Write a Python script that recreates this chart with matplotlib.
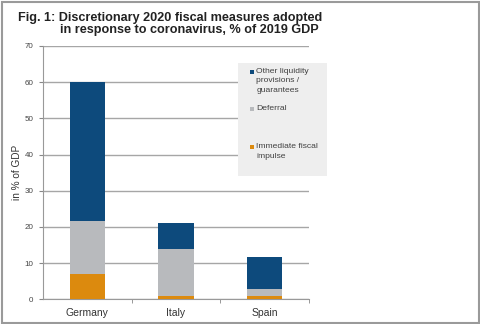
import matplotlib.pyplot as plt
from matplotlib.patches import Rectangle
import numpy as np

countries = ['Germany', 'Italy', 'Spain']
immediate = [6.9, 0.9, 0.8]
deferral = [14.7, 12.9, 2.0]
other = [38.4, 7.4, 9.0]

series_labels = ['Other liquidity\nprovisions /\nguarantees', 'Deferral', 'Immediate fiscal\nimpulse']
colors = ['#0d4a7c', '#b8babd', '#dc8a0e']

plt.rcParams['font.family'] = ['Liberation Sans', 'DejaVu Sans']

W, H = 480, 324
fig = plt.figure(figsize=(4.8, 3.24), dpi=100)
ax = fig.add_axes([43 / W, 1 - 299.3 / H, (309 - 43) / W, (299.3 - 46) / H])

x = np.arange(len(countries))
imm = np.array(immediate)
dfr = np.array(deferral)
oth = np.array(other)
ax.bar(x, imm, width=0.4, color=colors[2], zorder=3)
ax.bar(x, dfr, width=0.4, bottom=imm, color=colors[1], zorder=3)
ax.bar(x, oth, width=0.4, bottom=imm + dfr, color=colors[0], zorder=3)

ax.set_xlim(-0.5, 2.5)
ax.set_ylim(0, 70)
ax.set_yticks(range(0, 71, 10))
ax.yaxis.grid(True, color='#a6a6a6', linewidth=1, zorder=0)
ax.set_xticks(x)
ax.set_xticklabels(countries, fontsize=7.5, color='#333333')
ax.set_xticks([0.5, 1.5, 2.5], minor=True)
ax.tick_params(axis='x', which='major', length=0, pad=6)
ax.tick_params(axis='x', which='minor', length=3, color='#888888')
ax.tick_params(axis='y', length=3, color='#888888', labelsize=5.8, labelcolor='#444444', pad=4)
for s in ['top', 'right']:
    ax.spines[s].set_visible(False)
for s in ['left', 'bottom']:
    ax.spines[s].set_color('#999999')
ax.set_ylabel('in % of GDP', fontsize=7.2, color='#333333', labelpad=2)

# title
fig.text(18 / W, 1 - 20.7 / H, 'Fig. 1: Discretionary 2020 fiscal measures adopted',
         fontsize=9.1, fontweight='bold', color='#222222', va='baseline')
fig.text(60 / W, 1 - 33.3 / H, 'in response to coronavirus, % of 2019 GDP',
         fontsize=9.1, fontweight='bold', color='#222222', va='baseline')

# legend box
fig.patches.append(Rectangle((238 / W, 1 - 176 / H), (327 - 238) / W, (176 - 63) / H,
                             transform=fig.transFigure, facecolor='#eeeeee',
                             edgecolor='none', zorder=5))
entry_y = [71.7, 109, 147]
for lab, col, yy in zip(series_labels, colors, entry_y):
    fig.patches.append(Rectangle((250 / W, 1 - (yy + 2.2) / H), 4.2 / W, 4.2 / H,
                                 transform=fig.transFigure, facecolor=col,
                                 edgecolor='none', zorder=6))
    fig.text(256.5 / W, 1 - (yy - 4.0) / H, lab, fontsize=6.1, color='#404040',
             va='top', ha='left', linespacing=1.55, zorder=6)

# outer frame
fig.patches.append(Rectangle((1.5 / W, 1.5 / H), (W - 3) / W, (H - 3) / H,
                             transform=fig.transFigure, facecolor='none',
                             edgecolor='#9a9a9a', linewidth=1.5, zorder=10))

fig.savefig('out.png', dpi=100)
